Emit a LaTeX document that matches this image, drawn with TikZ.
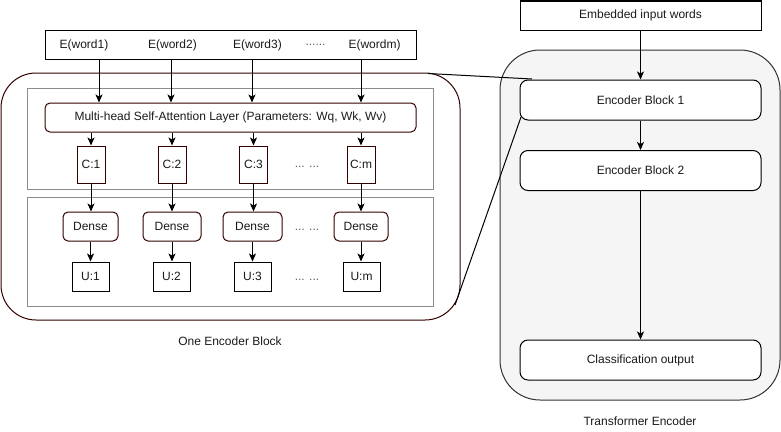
\documentclass[tikz,border=0pt]{standalone}
\usepackage{fontspec}
\setmainfont{Liberation Sans}
\usetikzlibrary{arrows.meta}
\definecolor{brownline}{HTML}{330000}
\definecolor{greyline}{HTML}{8C8C8C}
\definecolor{encfill}{HTML}{F5F5F5}
\definecolor{encline}{HTML}{333333}
\definecolor{txt}{HTML}{1A1A1A}
\begin{document}
\begin{tikzpicture}[x=1pt,y=-1pt,
  every node/.style={inner sep=0pt,text=txt,font=\fontsize{12}{14}\selectfont},
  box/.style={draw=brownline,line width=1pt,minimum height=29pt},
  rbox/.style={box,rounded corners=5pt},
  grey/.style={draw=greyline,line width=1pt},
  ebox/.style={draw=black,line width=1pt,fill=white,rounded corners=8pt,minimum width=241pt,minimum height=40pt},
  arr/.style={line width=1pt,-{Stealth[length=8pt,width=7pt,inset=2pt]}},
  link/.style={line width=1pt,draw=black},
  dots/.style={text=txt!70}]
\useasboundingbox (0,0) rectangle (781,431);

% ---------- right: transformer encoder ----------
\node[draw=encline,fill=encfill,line width=1pt,rounded corners=40pt,minimum width=280pt,minimum height=350pt] (tenc) at (640,225) {};
\node[draw=black,line width=1pt,minimum width=241pt,minimum height=29pt] (emb) at (640.5,15.5) {Embedded input words};
\node[ebox] (eb1) at (640.5,100) {Encoder Block 1};
\node[ebox] (eb2) at (640.5,170.5) {Encoder Block 2};
\node[ebox] (co) at (640.5,360) {Classification output};
\node (tlab) at (640,421) {Transformer Encoder};
\draw[arr] (emb) -- (eb1);
\draw[arr] (eb1) -- (eb2);
\draw[arr] (eb2) -- (co);

% ---------- left: one encoder block ----------
\node[draw=brownline,line width=1pt,rounded corners=35pt,minimum width=459pt,minimum height=247pt] (blk) at (230.5,196.5) {};
\node[grey,minimum width=406pt,minimum height=101pt] (g1) at (230,138.5) {};
\node[grey,minimum width=406pt,minimum height=109pt] (g2) at (230,251.5) {};
\node (blab) at (230,341) {One Encoder Block};

\node[draw=black,line width=1pt,minimum width=371pt,minimum height=29pt] (words) at (230.5,44.5) {};
\node (w1) at (84,45) {E(word1)};
\node (w2) at (172.5,45) {E(word2)};
\node (w3) at (257.5,45) {E(word3)};
\node[dots] (wd) at (315.5,45) {......};
\node (wm) at (374.5,45) {E(wordm)};

\node[rbox,minimum width=371pt] (att) at (230.5,117.5) {Multi-head Self-Attention Layer (Parameters: Wq, Wk, Wv)};

\coordinate (x1) at (99,0);
\coordinate (x2) at (171,0);
\coordinate (x3) at (252,0);
\coordinate (x4) at (361,0);
\foreach \i in {1,2,3,4}{
  \draw[arr] (words.south -| x\i) -- (att.north -| x\i);
}

\node[box,minimum width=28pt,minimum height=37pt] (c1) at (91,164.5) {C:1};
\node[box,minimum width=28pt,minimum height=37pt] (c2) at (172,164.5) {C:2};
\node[box,minimum width=28pt,minimum height=37pt] (c3) at (253.5,164.5) {C:3};
\node[box,minimum width=28pt,minimum height=37pt] (c4) at (361,164.5) {C:m};
\node[dots] (cd) at (307,167) {... ...};

\node[rbox,minimum width=55pt] (d1) at (90.5,226.5) {Dense};
\node[rbox,minimum width=58pt] (d2) at (172,226.5) {Dense};
\node[rbox,minimum width=59pt] (d3) at (252.5,226.5) {Dense};
\node[rbox,minimum width=54pt] (d4) at (361,226.5) {Dense};
\node[dots] (dd) at (307,230) {... ...};

\node[draw=black,line width=1pt,minimum width=37pt,minimum height=29pt] (u1) at (90.5,276.5) {U:1};
\node[draw=black,line width=1pt,minimum width=37pt,minimum height=29pt] (u2) at (171.5,276.5) {U:2};
\node[draw=black,line width=1pt,minimum width=37pt,minimum height=29pt] (u3) at (252.5,276.5) {U:3};
\node[draw=black,line width=1pt,minimum width=37pt,minimum height=29pt] (u4) at (361.5,276.5) {U:m};
\node[dots] (ud) at (307,280) {... ...};

\foreach \i in {1,2,3,4}{
  \draw[arr] (att.south -| c\i) -- (c\i.north);
  \draw[arr] (c\i.south) -- (d\i.north -| c\i);
  \draw[arr] (d\i.south) -- (u\i.north -| d\i);
}

% ---------- zoom links ----------
\coordinate (la) at (428,73.5);
\coordinate (lb) at (532,79);
\coordinate (lc) at (521,117);
\coordinate (ld) at (455,305);
\draw[link] (la) -- (lb);
\draw[link] (lc) -- (ld);
\end{tikzpicture}
\end{document}
